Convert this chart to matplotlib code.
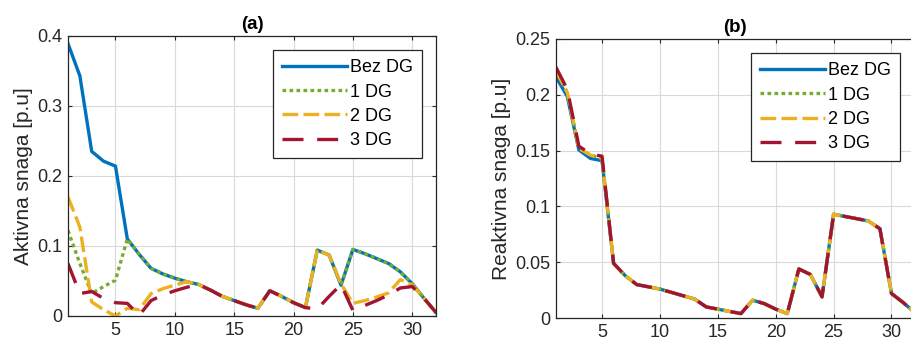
import matplotlib
matplotlib.use("Agg")
import matplotlib.pyplot as plt

plt.rcParams['font.family'] = ['Liberation Sans', 'DejaVu Sans']

# bus index
bus = list(range(1, 33))

# (a) active power [p.u]
p_bez = [0.389, 0.343, 0.235, 0.221, 0.214, 0.110, 0.088, 0.068, 0.060, 0.054,
         0.049, 0.045, 0.037, 0.028, 0.022, 0.016, 0.011, 0.036, 0.028, 0.019,
         0.012, 0.094, 0.087, 0.044, 0.095, 0.089, 0.082, 0.075, 0.063, 0.046,
         0.025, 0.005]
p_1dg = [0.122, 0.075, 0.032, 0.042, 0.051, 0.110, 0.088, 0.068, 0.060, 0.054,
         0.049, 0.045, 0.037, 0.028, 0.022, 0.016, 0.011, 0.036, 0.028, 0.019,
         0.012, 0.094, 0.087, 0.044, 0.095, 0.089, 0.082, 0.075, 0.063, 0.046,
         0.025, 0.005]
p_2dg = [0.170, 0.127, 0.020, 0.009, 0.000, 0.011, 0.009, 0.032, 0.039, 0.044,
         0.049, 0.045, 0.037, 0.028, 0.022, 0.016, 0.011, 0.036, 0.028, 0.019,
         0.012, 0.094, 0.087, 0.046, 0.018, 0.022, 0.027, 0.033, 0.052, 0.044,
         0.025, 0.005]
p_3dg = [0.075, 0.032, 0.035, 0.025, 0.019, 0.018, 0.001, 0.022, 0.030, 0.036,
         0.041, 0.045, 0.037, 0.028, 0.022, 0.016, 0.011, 0.036, 0.028, 0.019,
         0.012, 0.010, 0.028, 0.045, 0.008, 0.015, 0.022, 0.030, 0.040, 0.042,
         0.025, 0.005]

# (b) reactive power [p.u]
q_bez = [0.2165, 0.1985, 0.1506, 0.143, 0.141, 0.049, 0.038, 0.030, 0.028, 0.026,
         0.023, 0.020, 0.017, 0.010, 0.008, 0.006, 0.004, 0.016, 0.013, 0.008,
         0.004, 0.044, 0.039, 0.019, 0.093, 0.091, 0.089, 0.087, 0.080, 0.022,
         0.014, 0.005]
q_1dg = [0.222, 0.202, 0.152, 0.146, 0.143, 0.049, 0.038, 0.030, 0.028, 0.026,
         0.023, 0.020, 0.017, 0.010, 0.008, 0.006, 0.004, 0.016, 0.013, 0.008,
         0.004, 0.044, 0.039, 0.019, 0.093, 0.091, 0.089, 0.087, 0.080, 0.022,
         0.014, 0.005]
q_2dg = [0.222, 0.202, 0.152, 0.146, 0.143, 0.049, 0.038, 0.030, 0.028, 0.026,
         0.023, 0.020, 0.017, 0.010, 0.008, 0.006, 0.004, 0.016, 0.013, 0.008,
         0.004, 0.044, 0.039, 0.019, 0.093, 0.091, 0.089, 0.087, 0.080, 0.022,
         0.014, 0.005]
q_3dg = [0.225, 0.205, 0.154, 0.147, 0.145, 0.049, 0.038, 0.030, 0.028, 0.026,
         0.023, 0.020, 0.017, 0.010, 0.008, 0.006, 0.004, 0.016, 0.013, 0.008,
         0.004, 0.044, 0.039, 0.019, 0.093, 0.091, 0.089, 0.087, 0.080, 0.022,
         0.014, 0.005]

labels = ['Bez DG', '1 DG', '2 DG', '3 DG']
colors = ['#0072BD', '#77AC30', '#EDB120', '#A2142F']
styles = [dict(linestyle='-'),
          dict(dashes=(1.1, 1.0)),
          dict(dashes=(4.7, 1.6)),
          dict(dashes=(6.3, 4.1))]

fig = plt.figure(figsize=(9.11, 3.48), dpi=100)
ax1 = fig.add_axes([0.0746, 0.092, 0.404, 0.805])
ax2 = fig.add_axes([0.610, 0.086, 0.394, 0.802])


def draw(ax, series, ylim, yticks, yticklabels, ylabel, title):
    for s, lab, c, st in zip(series, labels, colors, styles):
        ax.plot(bus, s, color=c, lw=2.4, label=lab, **st)
    ax.set_xlim(1, 32)
    ax.set_ylim(*ylim)
    ax.set_xticks([5, 10, 15, 20, 25, 30])
    ax.set_yticks(yticks)
    ax.set_yticklabels(yticklabels)
    ax.grid(True, color='#d9d9d9', lw=0.8)
    ax.set_axisbelow(True)
    ax.tick_params(direction='in', length=3, labelsize=13, colors='#262626',
                   top=True, right=True, pad=4)
    for sp in ax.spines.values():
        sp.set_color('#262626')
        sp.set_linewidth(0.9)
    ax.set_ylabel(ylabel, fontsize=15, color='#262626', labelpad=3)
    ax.set_title(title, fontsize=13.5, fontweight='bold', pad=5)
    leg = ax.legend(loc='upper right', fontsize=13, handlelength=3.6,
                    handletextpad=0.15, borderpad=0.5, labelspacing=0.4,
                    fancybox=False, framealpha=1, borderaxespad=0.8)
    leg.get_frame().set_edgecolor('#262626')
    leg.get_frame().set_linewidth(0.9)


draw(ax1, [p_bez, p_1dg, p_2dg, p_3dg], (0, 0.4),
     [0, 0.1, 0.2, 0.3, 0.4], ['0', '0.1', '0.2', '0.3', '0.4'],
     'Aktivna snaga [p.u]', '(a)')
draw(ax2, [q_bez, q_1dg, q_2dg, q_3dg], (0, 0.25),
     [0, 0.05, 0.1, 0.15, 0.2, 0.25], ['0', '0.05', '0.1', '0.15', '0.2', '0.25'],
     'Reaktivna snaga [p.u]', '(b)')

fig.savefig('out.png', dpi=100)
